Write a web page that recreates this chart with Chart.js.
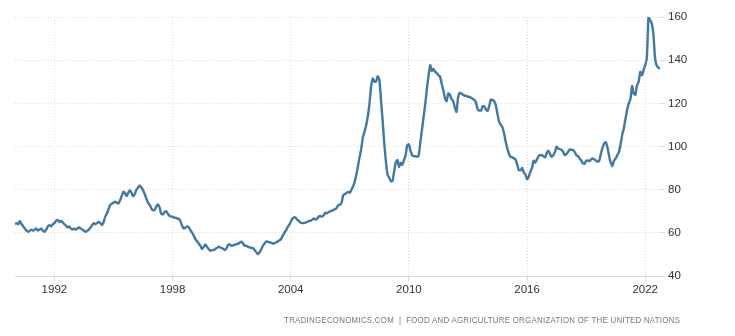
<!DOCTYPE html>
<html>
<head>
<meta charset="utf-8">
<script src="https://cdn.jsdelivr.net/npm/chart.js@4"></script>
<style>
    body { margin: 0; background: #fff; }
    #wrap { position: relative; width: 735px; height: 336px; }
    #source {
        position: absolute;
        right: 55px;
        top: 315px;
        font: 9px 'Liberation Sans Narrow', 'Liberation Sans', Arial, sans-serif;
        letter-spacing: 0.3px;
        color: #777;
        white-space: nowrap;
        transform: scaleX(0.876);
        transform-origin: right center;
    }
</style>
</head>
<body>
<div id="wrap">
    <canvas id="myChart" width="735" height="336"></canvas>
    <div id="source">TRADINGECONOMICS.COM&nbsp; |&nbsp; FOOD AND AGRICULTURE ORGANIZATION OF THE UNITED NATIONS</div>
</div>
<script>
const startYear = 1990;

// monthly index, Jan 1990 .. Oct 2022 (one row per year)
const monthlyIndex = [
    64, 64.5, 64, 65.5, 64, 63, 62, 61, 60.5, 61, 61.5, 61,
    61.5, 62, 61, 61.5, 62, 61, 60.5, 61.5, 63, 63.5, 63, 64,
    64.5, 65.5, 66, 65, 65.5, 65, 64, 63.5, 62.5, 63, 62, 61.5,
    62, 61.5, 62, 62.5, 62, 61.5, 61, 60.5, 61, 61.5, 62.5, 63.5,
    64.5, 64, 64.5, 65, 64.5, 63.6, 65, 67.5, 69, 71, 72.9, 73.5,
    74, 74.4, 74, 73.6, 75, 77, 79, 78.5, 77, 78.5, 79.8, 78.5,
    77, 78, 80, 81, 82, 81, 79.8, 78, 76, 74, 73, 71.5,
    70.5, 70.5, 72, 73.3, 72, 69, 68.5, 69.5, 70, 69, 68, 67.5,
    67.5, 67, 67, 66.5, 66.5, 65, 63, 62, 62.5, 63, 62.5, 61,
    60, 58.5, 57, 56, 55, 54, 52.5, 53.5, 54.6, 53.5, 52.5, 51.7,
    52, 52, 52.5, 53, 53.5, 53.3, 53, 52.5, 52, 53, 54.6, 54.5,
    54, 54.2, 54.5, 54.8, 55, 55.5, 55.9, 55, 54, 54, 53.5, 53.3,
    53, 53, 52, 51, 50.2, 51, 52.3, 54, 55, 56, 55.9, 55.5,
    55.5, 55, 55.2, 55.5, 56, 56.4, 57, 58.5, 59.8, 61, 62.5, 63.6,
    65, 66.5, 67.2, 67, 66, 65.5, 64.7, 64.5, 64.5, 64.7, 65, 65.5,
    65.5, 66, 66.7, 66.2, 66.5, 67.5, 67.8, 67.5, 68, 69.3, 69, 69.5,
    70, 70.2, 70.5, 71, 71.5, 72.9, 73, 74, 77.5, 78, 78.5, 79,
    78.5, 80, 81.5, 83.7, 87, 91, 95.2, 99, 104.5, 107, 110, 114,
    120, 128, 131.5, 130, 130, 132.6, 131, 121.5, 112, 101.4, 93, 87,
    85.5, 84, 84, 88.5, 92.5, 93.7, 90.6, 92.5, 91.5, 93.7, 96, 100.6,
    101, 98, 96, 95.5, 95.5, 95.2, 96, 102, 108, 114, 120, 127,
    133, 137.7, 135, 136, 134.6, 134, 133, 132.3, 129, 126, 122.3, 121,
    124.6, 124, 122, 121, 118, 116, 123, 124.9, 124.5, 124, 123.5, 123.5,
    123, 123, 122.5, 122, 121.5, 120, 117, 116.7, 116.7, 118.7, 118.5, 117,
    116.5, 119, 121.8, 121.5, 121, 119, 115, 111.4, 110, 109, 106, 102.2,
    99, 96.5, 95.2, 95, 94.5, 94, 91.6, 89, 89, 90, 88, 87,
    84.8, 86, 88.3, 90, 93.4, 92.5, 94, 95.5, 96, 96, 95.5, 95,
    97, 98, 96.5, 95.2, 96, 97.5, 99.9, 99, 98.8, 98.4, 97.5, 96,
    96.5, 97.5, 98.6, 98.5, 98.4, 97.5, 96, 95.5, 94.5, 93.5, 92.2, 92,
    93.4, 93.5, 93.2, 94, 94.5, 94, 93.5, 92.9, 93.5, 96.8, 99.5, 101.5,
    102, 99.5, 95.5, 92.5, 91, 93.5, 94.5, 96, 97.5, 101, 105.5, 108.5,
    113, 117, 120, 122, 128, 124.5, 124, 128.4, 130, 134.6, 133, 135.5,
    137.7, 141, 160, 158.5, 157, 152, 140.8, 137.5, 136.5, 136,
];

const xTickYears = [1992, 1998, 2004, 2010, 2016, 2022];
const yTickValues = [40, 60, 80, 100, 120, 140, 160];

const points = monthlyIndex.map((v, i) => ({ x: startYear + i / 12, y: v }));

const tickFont = {
    family: "'Liberation Sans Narrow', 'Liberation Sans', Arial, sans-serif",
    size: 11.5,
};

const data = {
    datasets: [{
        label: 'Food Price Index',
        data: points,
        borderColor: '#3f79a6',
        borderWidth: 2.4,
        pointRadius: 0,
        tension: 0.2,
        fill: false,
    }]
};

const config = {
    type: 'line',
    data: data,
    options: {
        responsive: false,
        animation: false,
        layout: {
            padding: { left: 15, top: 17, right: 0, bottom: 0 }
        },
        plugins: {
            legend: { display: false },
            tooltip: { enabled: false },
        },
        scales: {
            x: {
                type: 'linear',
                min: startYear,
                max: startYear + (monthlyIndex.length - 1) / 12,
                afterBuildTicks: scale => {
                    scale.ticks = xTickYears.map(v => ({ value: v }));
                },
                afterFit: scale => { scale.height = 60; },
                ticks: {
                    callback: value => String(value),
                    color: '#333',
                    font: tickFont,
                    padding: 2,
                    maxRotation: 0,
                },
                grid: {
                    color: '#dcdcdc',
                    tickColor: '#dcdcdc',
                    tickLength: 5,
                    lineWidth: 1,
                },
                border: { display: true, color: '#dcdcdc', dash: [1, 2] },
            },
            y: {
                position: 'right',
                min: 40,
                max: 160,
                afterBuildTicks: scale => {
                    scale.ticks = yTickValues.map(v => ({ value: v }));
                },
                afterFit: scale => { scale.width = 75; },
                ticks: {
                    color: '#333',
                    font: tickFont,
                    padding: 3,
                },
                grid: {
                    color: '#dcdcdc',
                    tickColor: '#dcdcdc',
                    tickLength: 5,
                    lineWidth: 1,
                },
                border: { display: false, dash: [1, 2] },
            }
        }
    },
};

const myChart = new Chart(
    document.getElementById('myChart'),
    config
);
</script>
</body>
</html>
